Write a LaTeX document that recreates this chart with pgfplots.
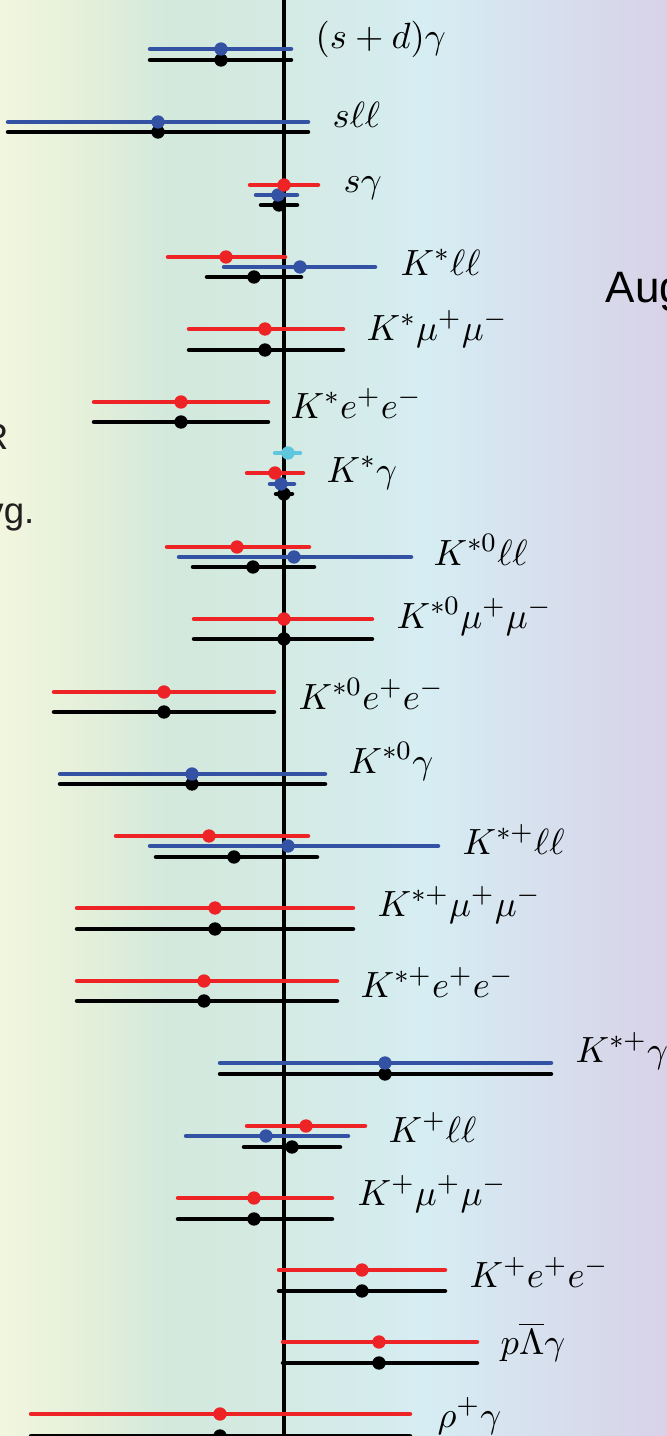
\documentclass[border=0pt]{standalone}
\usepackage{pgfplots}
\pgfplotsset{compat=1.18}
\usepackage{pgfplotstable}
\usepackage{fontspec}
\newfontfamily\arial{Liberation Sans}
\definecolor{hred}{HTML}{EE2326}
\definecolor{hblue}{HTML}{3452A3}
\definecolor{hcyan}{HTML}{5EC6DD}
\definecolor{htext}{HTML}{231F20}
\pgfdeclarehorizontalshading{bgsh}{100bp}{%
  rgb(0bp)=(0.949,0.965,0.871); rgb(25bp)=(0.949,0.965,0.871);
  rgb(32bp)=(0.890,0.937,0.855); rgb(37.5bp)=(0.827,0.914,0.863);
  rgb(46bp)=(0.831,0.918,0.890); rgb(57bp)=(0.839,0.929,0.953);
  rgb(75bp)=(0.847,0.824,0.910); rgb(100bp)=(0.847,0.824,0.910)}

% x = centre, y = row position (pixels from top), em/ep = left/right error
\pgfplotstableread{
x y em ep
284 185 34 34
226 257 58 59
265 329 76 78
181 402 87 87
275 473 28 28
237 547 70 72
284 619 90 88
164 692 110 110
209 836 93 99
215 908 138 138
204 981 127 133
306 1126 59 59
254 1198 76 78
362 1270 83 83
379 1342 96 98
220 1414 189 190
}\redtab
\pgfplotstableread{
x y em ep
221 49 71 70
158 122 150 150
278 195 22 19
300 267 76 75
281 484 11 13
294 557 115 117
192 774 132 133
288 846 138 150
385 1063 165 166
266 1136 80 82
}\bluetab
\pgfplotstableread{
x y em ep
288 453 13 12
}\cyantab
\pgfplotstableread{
x y em ep
221 60 71 70
158 132 150 150
279 205 18 18
254 277 47 47
265 350 76 78
181 422 87 87
284 494 8 8
253 567 60 61
284 639 90 88
164 712 110 110
192 784 132 133
234 857 78 83
215 929 138 138
204 1001 127 133
385 1074 165 166
292 1147 48 48
254 1219 76 78
362 1291 83 83
379 1363 96 98
220 1436 189 190
}\blacktab

\tikzset{lab/.style={anchor=base west, inner sep=0pt, font=\fontsize{11.3}{14}\selectfont}}
\pgfplotsset{bar/.style={#1, only marks, mark=*, mark size=1.8pt,
    error bars/x dir=both, error bars/x explicit, error bars/error mark=none,
    error bars/error bar style={line width=1.35pt, #1, line cap=round}}}

\begin{document}
\begin{tikzpicture}
\begin{axis}[
  scale only axis, width=200.1pt, height=430.8pt,
  xmin=0, xmax=667, ymin=0, ymax=1436, y dir=reverse,
  axis lines=none, ticks=none,
]
\shade[shading=bgsh] (axis cs:0,0) rectangle (axis cs:667,1436);
\draw[line width=1.4pt, black] (axis cs:284,0) -- (axis cs:284,1436);

\addplot[bar=black] table[x=x, y=y, x error minus=em, x error plus=ep] {\blacktab};
\addplot[bar=hblue] table[x=x, y=y, x error minus=em, x error plus=ep] {\bluetab};
\addplot[bar=hred] table[x=x, y=y, x error minus=em, x error plus=ep] {\redtab};
\addplot[bar=hcyan] table[x=x, y=y, x error minus=em, x error plus=ep] {\cyantab};

\node[lab] at (axis cs:315,49) {$(s+d)\gamma$};
\node[lab] at (axis cs:332,128) {$s\ell\ell$};
\node[lab] at (axis cs:343,193) {$s\gamma$};
\node[lab] at (axis cs:400,275) {$K^*\ell\ell$};
\node[lab] at (axis cs:366,340) {$K^*\mu^+\mu^-$};
\node[lab] at (axis cs:290,418) {$K^*e^+e^-$};
\node[lab] at (axis cs:326,482) {$K^*\gamma$};
\node[lab] at (axis cs:433,565) {$K^{*0}\ell\ell$};
\node[lab] at (axis cs:396,628) {$K^{*0}\mu^+\mu^-$};
\node[lab] at (axis cs:298,709) {$K^{*0}e^+e^-$};
\node[lab] at (axis cs:348,773) {$K^{*0}\gamma$};
\node[lab] at (axis cs:462,854) {$K^{*+}\ell\ell$};
\node[lab] at (axis cs:377,916) {$K^{*+}\mu^+\mu^-$};
\node[lab] at (axis cs:360,997) {$K^{*+}e^+e^-$};
\node[lab] at (axis cs:575,1062) {$K^{*+}\gamma$};
\node[lab] at (axis cs:388,1142) {$K^+\ell\ell$};
\node[lab] at (axis cs:357,1205) {$K^+\mu^+\mu^-$};
\node[lab] at (axis cs:469,1287) {$K^+e^+e^-$};
\node[lab] at (axis cs:500,1354) {$p\overline{\Lambda}\gamma$};
\node[lab] at (axis cs:437,1427) {$\rho^+\gamma$};

\node[anchor=base east, inner sep=0pt, text=htext, font=\arial\fontsize{11}{13}\selectfont] at (axis cs:9,449) {R};
\node[anchor=base east, inner sep=0pt, text=htext, font=\arial\fontsize{11}{13}\selectfont] at (axis cs:35,523) {Avg.};
\node[anchor=base west, inner sep=0pt, text=black, font=\arial\fontsize{13.2}{16}\selectfont] at (axis cs:605,302) {Aug};
\end{axis}
\pgfresetboundingbox
\useasboundingbox (current axis.south west) rectangle (current axis.north east);
\end{tikzpicture}
\end{document}
